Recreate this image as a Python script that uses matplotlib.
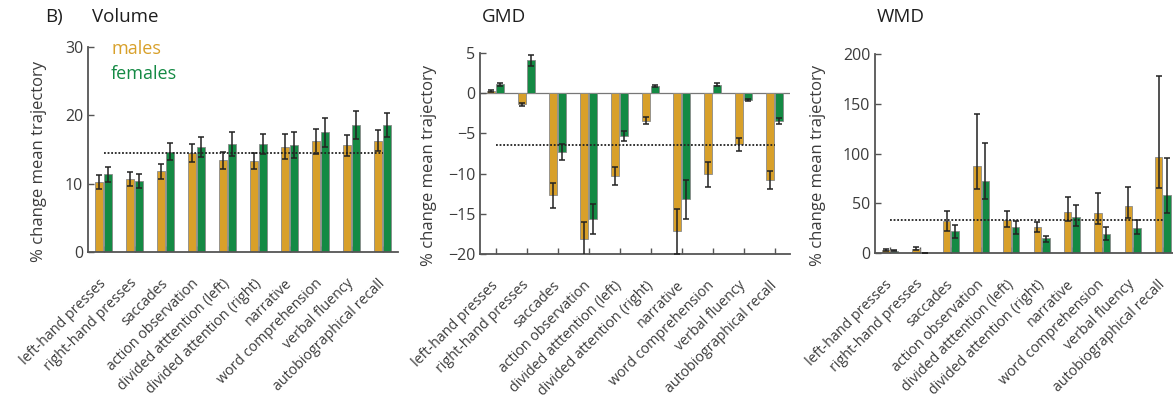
import numpy as np
import matplotlib
matplotlib.use("Agg")
import matplotlib.pyplot as plt
from matplotlib.transforms import ScaledTranslation

plt.rcParams['font.family'] = ['Open Sans', 'DejaVu Sans']

tasks = ['left-hand presses', 'right-hand presses', 'saccades', 'action observation',
         'divided atttention (left)', 'divided attention (right)', 'narrative',
         'word comprehension', 'verbal fluency', 'autobiographical recall']

# Volume
vol_m = [10.2, 10.7, 11.8, 14.5, 13.4, 13.3, 15.4, 16.2, 15.6, 16.3]
vol_m_err = [1.0, 1.0, 1.1, 1.3, 1.3, 1.2, 1.8, 1.8, 1.5, 1.5]
vol_f = [11.4, 10.4, 14.7, 15.4, 15.8, 15.8, 15.6, 17.5, 18.6, 18.6]
vol_f_err = [1.1, 1.0, 1.3, 1.5, 1.7, 1.5, 1.9, 2.1, 2.0, 1.8]
vol_mean = 14.5

# GMD
gmd_m = [0.3, -1.4, -12.7, -18.1, -10.3, -3.4, -17.2, -10.1, -6.35, -10.8]
gmd_m_err = [0.1, 0.2, 1.55, 2.1, 1.15, 0.4, 2.75, 1.6, 0.8, 1.15]
gmd_f = [1.1, 4.1, -7.3, -15.65, -5.3, 0.9, -13.2, 1.05, -0.83, -3.45]
gmd_f_err = [0.2, 0.7, 0.95, 1.85, 0.6, 0.1, 2.4, 0.2, 0.1, 0.4]
gmd_mean = -6.4

# WMD (asymmetric errors)
wmd_m = [3.0, 4.4, 31.9, 87.0, 33.6, 25.9, 41.0, 40.3, 47.7, 96.5]
wmd_m_lo = [0.8, 1.5, 10.0, 23.0, 7.3, 4.5, 9.0, 11.0, 13.0, 31.0]
wmd_m_hi = [0.8, 1.5, 10.0, 53.0, 8.4, 5.0, 15.0, 20.0, 19.0, 81.0]
wmd_f = [2.5, 0.0, 21.8, 72.0, 25.9, 14.8, 36.0, 19.2, 25.2, 57.8]
wmd_f_lo = [0.6, 0.0, 6.5, 18.0, 6.5, 3.4, 8.6, 6.0, 5.7, 17.5]
wmd_f_hi = [0.6, 0.0, 6.5, 39.0, 6.0, 2.7, 12.0, 6.7, 8.0, 37.6]
wmd_mean = 33.6

male_col = '#D8A02A'
female_col = '#148A44'
txt_col = '#3c3c3c'
axis_col = '#555555'

x = np.arange(1, len(tasks) + 1)
w = 0.25
off = 0.14

W, H = 1173, 403
fig = plt.figure(figsize=(W / 100, H / 100), dpi=100)


def px_rect(left, right, top, bottom):
    return [left / W, 1 - bottom / H, (right - left) / W, (bottom - top) / H]


panels = [
    dict(rect=px_rect(88, 398, 47, 252), title='Volume', tx=92,
         m=vol_m, merr=[vol_m_err, vol_m_err], f=vol_f, ferr=[vol_f_err, vol_f_err],
         mean=vol_mean, ylim=(0, 30), yticks=[0, 10, 20, 30], ylx=-0.132),
    dict(rect=px_rect(480, 790, 53, 254), title='GMD', tx=482,
         m=gmd_m, merr=[gmd_m_err, gmd_m_err], f=gmd_f, ferr=[gmd_f_err, gmd_f_err],
         mean=gmd_mean, ylim=(-20, 5), yticks=[-20, -15, -10, -5, 0, 5], ylx=-0.139),
    dict(rect=px_rect(875, 1178, 54, 253), title='WMD', tx=877,
         m=wmd_m, merr=[wmd_m_lo, wmd_m_hi], f=wmd_f, ferr=[wmd_f_lo, wmd_f_hi],
         mean=wmd_mean, ylim=(0, 200), yticks=[0, 50, 100, 150, 200], ylx=-0.162),
]

# nudge rotated task labels slightly left of their ticks
shift = ScaledTranslation(-2 / 100, 0, fig.dpi_scale_trans)

for i, p in enumerate(panels):
    ax = fig.add_axes(p['rect'])
    ax.bar(x - off, p['m'], w, color=male_col, edgecolor='#8a8a8a', linewidth=0.6, zorder=2)
    ax.bar(x + off, p['f'], w, color=female_col, edgecolor='#8a8a8a', linewidth=0.6, zorder=2)
    ax.errorbar(x - off, p['m'], yerr=p['merr'], fmt='none', ecolor='#222222',
                elinewidth=1.1, capsize=2.5, capthick=1.1, zorder=3)
    ax.errorbar(x + off, p['f'], yerr=p['ferr'], fmt='none', ecolor='#222222',
                elinewidth=1.1, capsize=2.5, capthick=1.1, zorder=3)
    ax.plot([x[0], x[-1]], [p['mean'], p['mean']], linestyle=(0, (1, 1)),
            color='#222222', linewidth=1.3, zorder=4)
    if p['ylim'][0] < 0:
        ax.axhline(0, color='#777777', linewidth=0.9, zorder=1)

    ax.set_xlim(0.5, 10.5)
    ax.set_ylim(*p['ylim'])
    ax.set_yticks(p['yticks'])
    ax.set_xticks(x)
    ax.set_xticklabels(tasks, rotation=45, ha='right', va='center',
                       rotation_mode='anchor', fontsize=10.3, color=txt_col)
    for lab in ax.get_xticklabels():
        lab.set_transform(lab.get_transform() + shift)
    ax.tick_params(axis='both', direction='in', length=4, width=1.0, color=axis_col,
                   labelcolor=txt_col)
    ax.tick_params(axis='y', labelsize=11.5)
    ax.tick_params(axis='x', pad=21)
    for s in ['top', 'right']:
        ax.spines[s].set_visible(False)
    for s in ['left', 'bottom']:
        ax.spines[s].set_color(axis_col)
        ax.spines[s].set_linewidth(1.3)
    ax.set_ylabel('% change mean trajectory', fontsize=12, color=txt_col)
    ax.yaxis.set_label_coords(p['ylx'], 0.44)
    fig.text(p['tx'] / W, 1 - 17 / H, p['title'], fontsize=13.5,
             color='#1e1e1e', ha='left', va='center')

    if i == 0:
        ax.text(0.077, 0.99, 'males', transform=ax.transAxes, fontsize=13,
                color=male_col, ha='left', va='center')
        ax.text(0.074, 0.87, 'females', transform=ax.transAxes, fontsize=13,
                color=female_col, ha='left', va='center')

fig.text(45 / W, 1 - 17 / H, 'B)', fontsize=13.5, color='#1e1e1e', ha='left', va='center')

fig.savefig('out.png', dpi=100)
